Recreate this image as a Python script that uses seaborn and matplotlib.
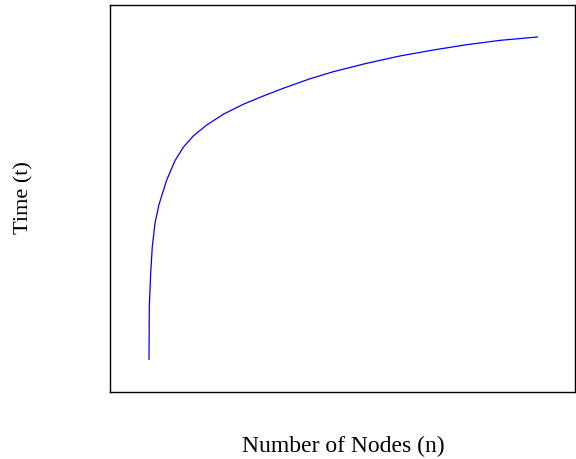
import matplotlib
matplotlib.use("Agg")
import matplotlib.pyplot as plt
import seaborn as sns
import pandas as pd

# Values
nodes = [1.00, 1.08, 1.43, 1.84, 2.53, 3.55, 5.51, 7.62, 9.73, 12.28,
         15.70, 19.93, 25.02, 30.12, 35.21, 41.83, 47.94, 56.45, 64.93,
         73.41, 81.92, 90.40, 100.0]
times = [0.000, 0.754, 1.231, 1.611, 1.946, 2.214, 2.564, 2.840, 3.031, 3.193,
         3.350, 3.503, 3.646, 3.764, 3.874, 4.007, 4.111, 4.231, 4.336,
         4.421, 4.497, 4.559, 4.607]

x_label = "Number of Nodes (n)"
y_label = "Time (t)"

sns.set_style("white")
plt.rcParams['font.family'] = ['Liberation Serif', 'DejaVu Serif']
plt.rcParams['text.color'] = 'black'

df = pd.DataFrame({"n": nodes, "t": times})

fig = plt.figure(figsize=(5.76, 4.59), dpi=100)
ax = fig.add_axes([110/576, 1 - 392.3/459, (575-110)/576, (392.3-5)/459])
sns.lineplot(data=df, x="n", y="t", ax=ax, color="blue", linewidth=0.9, sort=False)

ax.set_xlim(-8.93, 109.5)
ax.set_ylim(-0.469, 5.064)
ax.set_xticks([])
ax.set_yticks([])
ax.set_xlabel("")
ax.set_ylabel("")
for s in ax.spines.values():
    s.set_color("black")
    s.set_linewidth(1.0)
    s.set_visible(True)

fig.text(343/576, 1 - 446/459, x_label, fontsize=17, ha="center", va="center",
         color="black")
fig.text(24/576, 1 - 198/459, y_label, fontsize=16, ha="center", va="center",
         rotation=90, color="black")

fig.savefig("out.png", dpi=100)
